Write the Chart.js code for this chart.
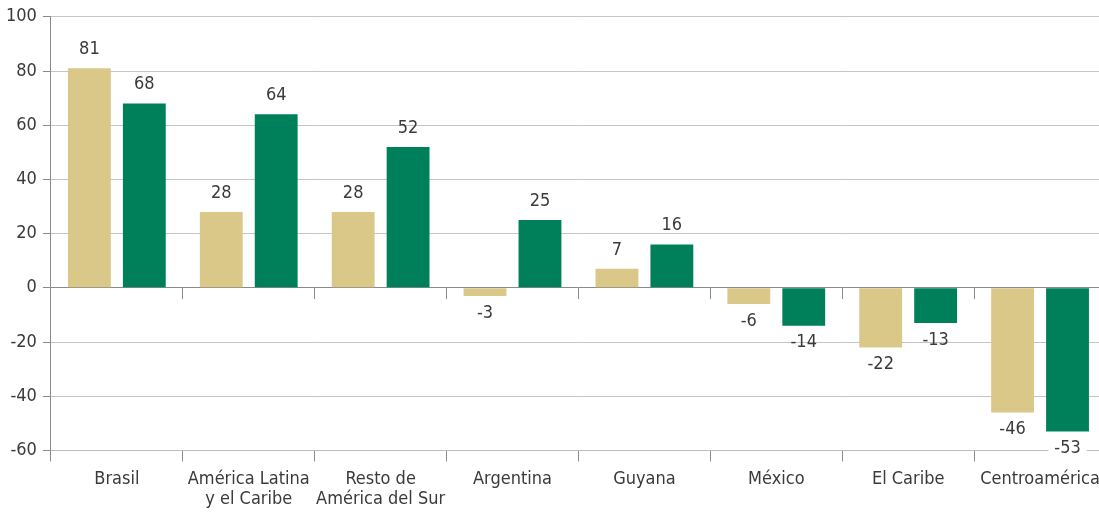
<!DOCTYPE html>
<html>
<head>
<meta charset="utf-8">
<script src="https://cdn.jsdelivr.net/npm/chart.js@4"></script>
<style>
  html, body { margin: 0; padding: 0; background: #fff; overflow: hidden; }
  #wrap { width: 1112px; height: 517px; }
</style>
</head>
<body>
<div id="wrap"><canvas id="myChart" width="1112" height="517"></canvas></div>
<script>
// categories and both series
let categories = [
  'Brasil',
  ['América Latina', 'y el Caribe'],
  ['Resto de', 'América del Sur'],
  'Argentina',
  'Guyana',
  'México',
  'El Caribe',
  'Centroamérica'
]
let serieTan = [81, 28, 28, -3, 7, -6, -22, -46]
let serieGreen = [68, 64, 52, 25, 16, -14, -13, -53]
let yTicks = [100, 80, 60, 40, 20, 0, -20, -40, -60]

const fontName = '"Liberation Sans Narrow", "DejaVu Sans Condensed", Roboto, sans-serif'
const textColor = '#3a3a3a'

// value labels above / below each bar
const barLabels = {
  id: 'barLabels',
  afterDatasetsDraw(chart) {
    let ctx = chart.ctx
    ctx.save()
    ctx.font = '18px ' + fontName
    ctx.textAlign = 'center'
    ctx.textBaseline = 'middle'
    chart.data.datasets.forEach((ds, i) => {
      chart.getDatasetMeta(i).data.forEach((bar, j) => {
        let v = ds.data[j]
        let y = v >= 0 ? bar.y - 19 : bar.y + 17
        let txt = String(v)
        if (v < -50) {
          let w = ctx.measureText(txt).width
          ctx.fillStyle = '#fff'
          ctx.fillRect(bar.x - w / 2 - 6, y - 10, w + 12, 20)
        }
        ctx.fillStyle = textColor
        ctx.fillText(txt, bar.x, y)
      })
    })
    ctx.restore()
  }
}

let ctx = document.querySelector('#myChart').getContext('2d')
let myChart = new Chart(ctx, {
  type: 'bar',
  data: {
    labels: categories,
    datasets: [{
      data: serieTan,
      backgroundColor: '#dac888',
      categoryPercentage: 0.833,
      barPercentage: 0.78
    }, {
      data: serieGreen,
      backgroundColor: '#00805a',
      categoryPercentage: 0.833,
      barPercentage: 0.78
    }]
  },
  options: {
    responsive: false,
    animation: false,
    layout: { padding: { top: 7, right: 6, left: 0, bottom: 0 } },
    plugins: { legend: { display: false }, tooltip: { enabled: false } },
    scales: {
      x: {
        position: 'bottom',
        grid: {
          offset: true,
          drawOnChartArea: false,
          color: '#8a8a8a',
          tickLength: 11
        },
        border: { color: '#bdbdbd' },
        ticks: {
          color: textColor,
          font: { family: fontName, size: 18, lineHeight: 1.1 },
          maxRotation: 0,
          autoSkip: false,
          padding: 8
        }
      },
      x0: {
        position: { y: 0 },
        labels: categories,
        grid: {
          offset: true,
          drawOnChartArea: false,
          color: '#8a8a8a',
          tickLength: 11
        },
        border: { color: '#8a8a8a' },
        ticks: { display: false }
      },
      y: {
        min: -60,
        max: 100,
        afterBuildTicks: axis => { axis.ticks = yTicks.map(v => ({ value: v })) },
        grid: {
          color: '#c4c4c4',
          tickLength: 8,
          tickColor: '#8a8a8a'
        },
        border: { color: '#8a8a8a' },
        ticks: {
          color: textColor,
          font: { family: fontName, size: 18 },
          padding: 6
        }
      }
    }
  },
  plugins: [barLabels]
})
</script>
</body>
</html>
